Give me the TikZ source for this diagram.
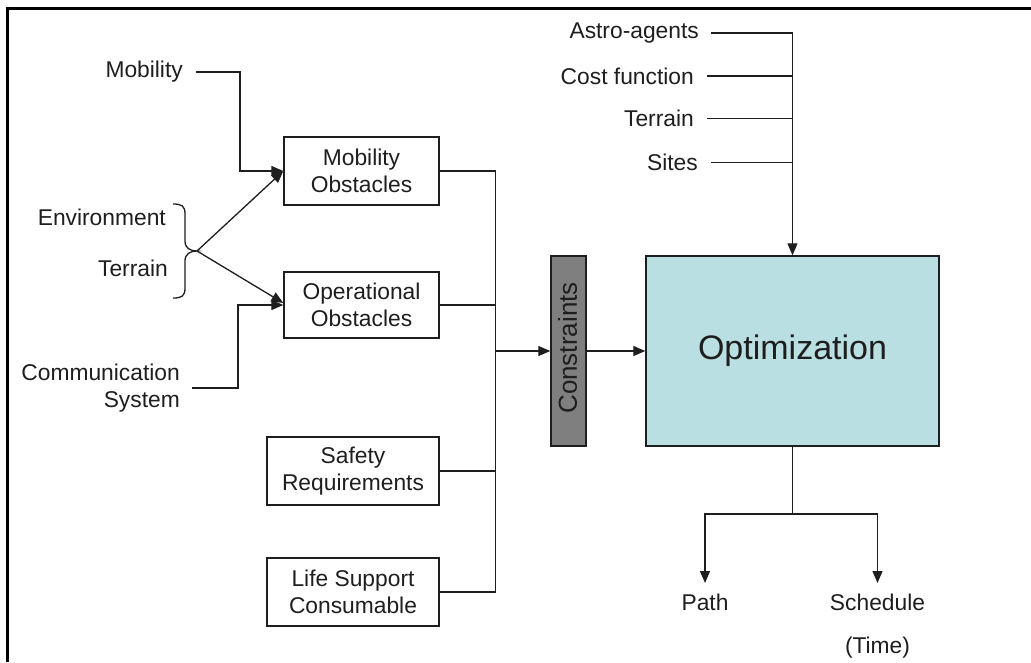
\documentclass[tikz,border=0pt]{standalone}
\usepackage{fontspec}
\setmainfont{Liberation Sans}
\usetikzlibrary{arrows.meta}
\definecolor{optfill}{HTML}{B9DFE3}
\definecolor{consfill}{HTML}{7F7F7F}
\definecolor{ink}{HTML}{1E1E1E}
\begin{document}
\begin{tikzpicture}[x=1pt,y=-1pt,
 txt/.style={inner sep=0pt, font=\fontsize{22.8}{27.4}\selectfont, text=ink},
 box/.style={draw=ink, line width=1.4pt, align=center, inner sep=0pt, text=ink,
   font=\fontsize{22.8}{27.4}\selectfont},
 conn/.style={line width=1.3pt, draw=ink},
 arr/.style={conn, -{Triangle[length=12pt,width=10pt]}},
]
\useasboundingbox (0,0) rectangle (1031,662);
\draw[line width=2.8pt] (7.5,662) -- (7.5,8.5) -- (1031,8.5);

% left labels
\node[txt,anchor=east] (mob) at (183,72) {Mobility};
\node[txt,anchor=east] (env) at (166,217) {Environment};
\node[txt,anchor=east] (ter) at (168,268) {Terrain};
\node[txt,anchor=east,align=right] (com) at (180,388) {Communication\\System};

% boxes
\node[box, minimum width=155pt, minimum height=68pt] (mobobs) at (361.5,171) {Mobility\\Obstacles};
\node[box, minimum width=155pt, minimum height=66pt] (opobs) at (361.5,305) {Operational\\Obstacles};
\node[box, minimum width=172pt, minimum height=68pt] (safe) at (353,471) {Safety\\Requirements};
\node[box, minimum width=172pt, minimum height=68pt] (life) at (353,592) {Life Support\\Consumable};
\node[draw=ink, fill=consfill, line width=1.4pt, minimum width=35pt, minimum height=190pt, inner sep=0pt] (cons) at (568.5,351) {};
\node[txt, rotate=90, font=\fontsize{26}{30}\selectfont] (constxt) at (567.5,348) {Constraints};
\node[draw=ink, fill=optfill, line width=1.4pt, minimum width=293pt, minimum height=190pt,
  inner sep=0pt, text=ink, font=\fontsize{34}{40}\selectfont] (opt) at (792.5,351) {Optimization};

% top labels
\node[txt,anchor=east] (astro) at (699,33) {Astro-agents};
\node[txt,anchor=east] (cost) at (694,76) {Cost function};
\node[txt,anchor=east] (ter2) at (694,118.5) {Terrain};
\node[txt,anchor=east] (sites) at (698,162.5) {Sites};

% outputs
\node[txt, anchor=north, inner ysep=11pt] (path) at (705,583) {Path};
\node[txt, anchor=north, inner ysep=11pt, align=center, font=\fontsize{22.8}{42.6}\selectfont] (sched) at (877.5,583) {Schedule\\(Time)};

% brace
\coordinate (bt) at (197,251);
\draw[conn] (173,204) .. controls (182,204) and (185,206) .. (185,214) -- (185,241)
  .. controls (185,248) and (190,251) .. (bt)
  .. controls (190,251) and (185,254) .. (185,261) -- (185,288)
  .. controls (185,296) and (182,298) .. (173,298);
\draw[arr] (bt) -- (mobobs.west);
\draw[arr] (bt) -- ([yshift=2pt]opobs.west);

% mobility and communication inputs
\coordinate (j1) at (240,171);
\draw[arr] ([xshift=13pt]mob.east) -| (j1) -- (mobobs.west);
\coordinate (j2) at (238,305);
\draw[arr] ([xshift=12pt]com.east) -| (j2) -- (opobs.west);

% bus to constraints
\coordinate (bus) at (495.5,351);
\draw[conn] (mobobs.east) -| (bus |- life.east) -- (life.east);
\draw[conn] (opobs.east) -- (opobs.east -| bus);
\draw[conn] (safe.east) -- (safe.east -| bus);
\draw[arr] (bus) -- (cons.west);
\draw[arr] (cons.east) -- (opt.west);

% top inputs
\coordinate (jt) at (792.5,33);
\draw[conn] ([xshift=12pt]astro.east) -- (jt);
\draw[conn] ([xshift=13pt]cost.east) -- (cost.east -| jt);
\draw[conn] ([xshift=13pt]ter2.east) -- (ter2.east -| jt);
\draw[conn] ([xshift=13pt]sites.east) -- (sites.east -| jt);
\draw[arr] (jt) -- (opt.north);

% outputs
\coordinate (jb) at (792.5,514);
\draw[conn] (opt.south) -- (jb);
\draw[arr] (jb) -| (path.north);
\draw[arr] (jb) -| (sched.north);
\end{tikzpicture}
\end{document}
